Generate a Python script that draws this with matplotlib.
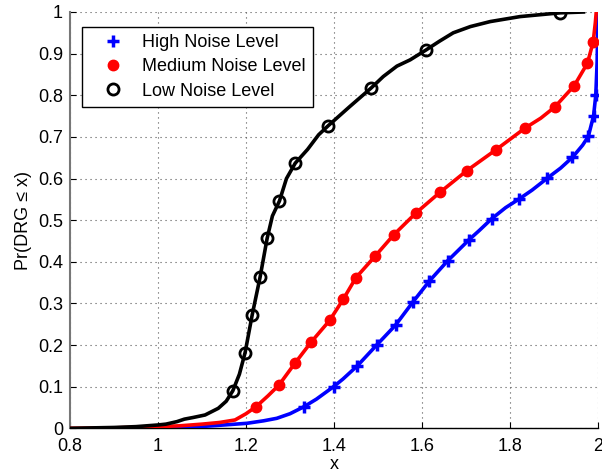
import matplotlib
matplotlib.use("Agg")
import matplotlib.pyplot as plt
import numpy as np

plt.rcParams['font.family'] = ['Liberation Sans', 'DejaVu Sans']

# ---- data ----
low_x = [0.80, 0.90, 0.95, 1.00, 1.018, 1.043, 1.06, 1.08, 1.107, 1.137, 1.155, 1.170,
         1.185, 1.198, 1.214, 1.232, 1.248, 1.260, 1.276, 1.292, 1.312, 1.340, 1.365,
         1.387, 1.436, 1.484, 1.512, 1.543, 1.573, 1.608, 1.640, 1.671, 1.710, 1.755,
         1.823, 1.914, 1.967]
low_y = [0.000, 0.002, 0.004, 0.008, 0.010, 0.016, 0.022, 0.026, 0.032, 0.048, 0.065, 0.090,
         0.130, 0.182, 0.272, 0.363, 0.456, 0.510, 0.546, 0.600, 0.637, 0.670, 0.705,
         0.727, 0.773, 0.817, 0.845, 0.870, 0.885, 0.908, 0.930, 0.950, 0.965, 0.977,
         0.989, 0.998, 1.000]
low_mx = [1.170, 1.198, 1.214, 1.232, 1.248, 1.276, 1.312, 1.387, 1.484, 1.608, 1.914]
low_my = [0.090, 0.182, 0.272, 0.363, 0.456, 0.546, 0.637, 0.727, 0.817, 0.908, 0.998]

med_x = [0.80, 0.90, 1.00, 1.05, 1.10, 1.14, 1.175, 1.20, 1.223, 1.250, 1.275, 1.311,
         1.348, 1.390, 1.421, 1.450, 1.493, 1.536, 1.586, 1.641, 1.702, 1.768, 1.834,
         1.870, 1.902, 1.946, 1.976, 1.989, 1.994, 1.996]
med_y = [0.000, 0.001, 0.004, 0.006, 0.010, 0.014, 0.020, 0.035, 0.052, 0.078, 0.104, 0.156,
         0.207, 0.259, 0.310, 0.362, 0.413, 0.465, 0.517, 0.567, 0.619, 0.669, 0.721,
         0.745, 0.772, 0.823, 0.877, 0.928, 0.975, 1.000]
med_mx = [1.223, 1.275, 1.311, 1.348, 1.390, 1.421, 1.450, 1.493, 1.536, 1.586, 1.641,
          1.702, 1.768, 1.834, 1.902, 1.946, 1.976, 1.989]
med_my = [0.052, 0.104, 0.156, 0.207, 0.259, 0.310, 0.362, 0.413, 0.465, 0.517, 0.567,
          0.619, 0.669, 0.721, 0.772, 0.823, 0.877, 0.928]

high_x = [1.00, 1.05, 1.095, 1.15, 1.202, 1.240, 1.270, 1.300, 1.332, 1.360, 1.399, 1.420,
          1.453, 1.497, 1.540, 1.579, 1.617, 1.658, 1.707, 1.730, 1.758, 1.790, 1.821,
          1.850, 1.885, 1.915, 1.942, 1.965, 1.978, 1.990, 1.995, 1.998, 2.000]
high_y = [0.000, 0.001, 0.004, 0.008, 0.012, 0.018, 0.024, 0.035, 0.052, 0.070, 0.100, 0.118,
          0.150, 0.200, 0.248, 0.303, 0.354, 0.402, 0.453, 0.475, 0.503, 0.530, 0.551,
          0.572, 0.601, 0.625, 0.651, 0.680, 0.701, 0.751, 0.801, 0.880, 1.000]
high_mx = [1.332, 1.399, 1.453, 1.497, 1.540, 1.579, 1.617, 1.658, 1.707, 1.758, 1.821,
           1.885, 1.942, 1.978, 1.990, 1.995]
high_my = [0.052, 0.100, 0.150, 0.200, 0.248, 0.303, 0.354, 0.402, 0.453, 0.503, 0.551,
           0.601, 0.651, 0.701, 0.751, 0.801]

labels = ['High Noise Level', 'Medium Noise Level', 'Low Noise Level']
xticks = [0.8, 1.0, 1.2, 1.4, 1.6, 1.8, 2.0]
xticklabels = ['0.8', '1', '1.2', '1.4', '1.6', '1.8', '2']
yticks = [0, 0.1, 0.2, 0.3, 0.4, 0.5, 0.6, 0.7, 0.8, 0.9, 1.0]
yticklabels = ['0', '0.1', '0.2', '0.3', '0.4', '0.5', '0.6', '0.7', '0.8', '0.9', '1']

# ---- figure ----
fig = plt.figure(figsize=(6.02, 4.73), dpi=100)
ax = fig.add_axes([70/602, 1-428.3/473, 528/602, 416.3/473])

lw = 2.6
ax.plot(high_x, high_y, color='#0000ff', lw=lw, zorder=3)
ax.plot(med_x, med_y, color='#ff0000', lw=lw, zorder=3)
ax.plot(low_x, low_y, color='black', lw=lw, zorder=4)

h1, = ax.plot(high_mx, high_my, ls='none', marker='+', ms=8, mew=2.5, color='#0000ff',
              label=labels[0], zorder=5)
h2, = ax.plot(med_mx, med_my, ls='none', marker='o', ms=7.5, color='#ff0000',
              mec='#ff0000', label=labels[1], zorder=5)
h3, = ax.plot(low_mx, low_my, ls='none', marker='o', ms=8, mfc='none', mec='black',
              mew=2, label=labels[2], zorder=6)

ax.set_xlim(0.8, 2.0)
ax.set_ylim(0, 1)
ax.set_xticks(xticks)
ax.set_xticklabels(xticklabels)
ax.set_yticks(yticks)
ax.set_yticklabels(yticklabels)
ax.tick_params(direction='in', length=4, labelsize=13, width=0.8)
ax.tick_params(axis='x', pad=7)
ax.tick_params(axis='y', pad=5)

ax.grid(True, color='#555555', ls=(0, (1, 3.5)), lw=0.8)
for s in ['top', 'right']:
    ax.spines[s].set_visible(False)
ax.spines['bottom'].set_linewidth(1.0)
ax.spines['left'].set_color('#777777')
ax.spines['left'].set_linewidth(1.5)

ax.set_xlabel('x', fontsize=13, labelpad=1)
ax.set_ylabel('Pr(DRG \u2264 x)', fontsize=13, labelpad=4)

leg = ax.legend(handles=[h1, h2, h3], loc='upper left', bbox_to_anchor=(0.0227, 0.964),
                borderaxespad=0, fontsize=13, frameon=True, fancybox=False,
                edgecolor='black', framealpha=1, handletextpad=0.35, labelspacing=0.4,
                borderpad=0.4, handlelength=2.6, numpoints=1)
leg.get_frame().set_linewidth(1.0)

fig.savefig('out.png', dpi=100)
